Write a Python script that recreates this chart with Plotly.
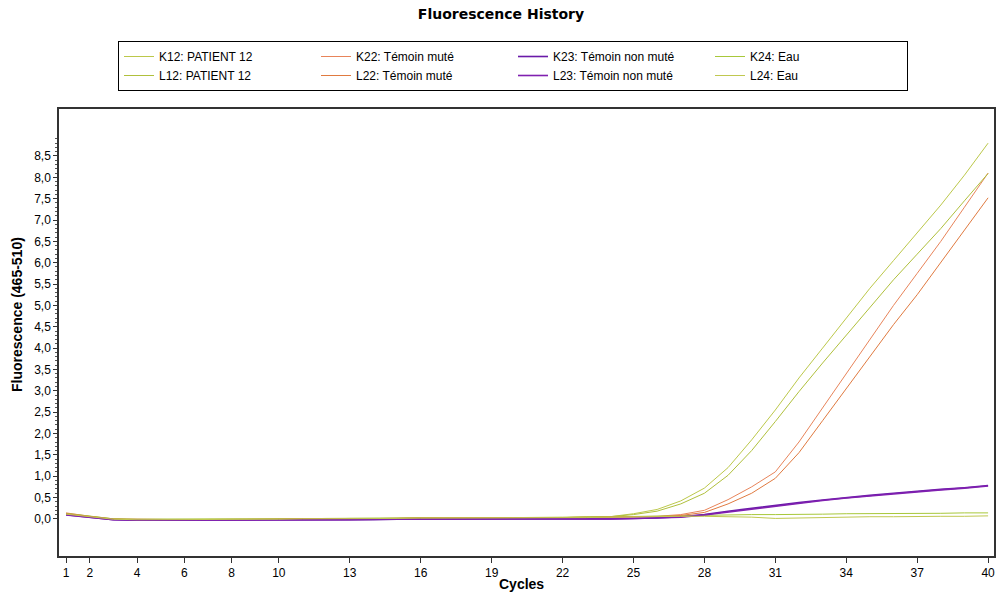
import plotly.graph_objects as go
import numpy as np

cycles = list(range(1, 41))

k12 = [0.12, 0.06, 0.00, -0.01, -0.01, -0.01, -0.01, -0.01, 0.00, 0.00,
       0.00, 0.00, 0.01, 0.01, 0.02, 0.02, 0.01, 0.01, 0.02, 0.03,
       0.03, 0.04, 0.05, 0.05, 0.12, 0.22, 0.42, 0.72, 1.20, 1.85,
       2.55, 3.30, 4.00, 4.70, 5.40, 6.05, 6.70, 7.35, 8.05, 8.80]
l12 = [0.10, 0.05, -0.01, -0.02, -0.02, -0.02, -0.02, -0.01, -0.01, 0.00,
       0.00, 0.00, 0.00, 0.01, 0.01, 0.01, 0.01, 0.02, 0.02, 0.02,
       0.03, 0.03, 0.04, 0.05, 0.10, 0.18, 0.35, 0.60, 1.02, 1.60,
       2.28, 2.98, 3.65, 4.30, 4.95, 5.60, 6.20, 6.80, 7.45, 8.09]
k22 = [0.14, 0.06, 0.00, -0.01, -0.02, -0.02, -0.02, -0.03, -0.02, -0.01,
       -0.01, 0.00, 0.00, 0.01, 0.02, 0.02, 0.02, 0.02, 0.02, 0.03,
       0.03, 0.03, 0.04, 0.04, 0.05, 0.06, 0.10, 0.20, 0.45, 0.75,
       1.10, 1.80, 2.60, 3.40, 4.20, 5.00, 5.75, 6.50, 7.30, 8.10]
l22 = [0.12, 0.05, -0.01, -0.02, -0.02, -0.02, -0.02, -0.02, -0.01, -0.01,
       0.00, 0.00, 0.01, 0.01, 0.01, 0.02, 0.02, 0.02, 0.02, 0.02,
       0.03, 0.03, 0.03, 0.04, 0.04, 0.05, 0.08, 0.15, 0.35, 0.60,
       0.95, 1.55, 2.30, 3.05, 3.80, 4.55, 5.25, 6.00, 6.75, 7.52]
k23 = [0.10, 0.04, -0.02, -0.03, -0.03, -0.03, -0.03, -0.03, -0.03, -0.02,
       -0.02, -0.02, -0.02, -0.02, -0.01, -0.01, -0.01, -0.01, -0.01, -0.01,
       -0.01, 0.00, 0.00, 0.00, 0.01, 0.02, 0.05, 0.10, 0.18, 0.25,
       0.32, 0.38, 0.44, 0.50, 0.55, 0.60, 0.65, 0.69, 0.73, 0.78]
l23 = [0.09, 0.03, -0.02, -0.03, -0.03, -0.03, -0.03, -0.03, -0.02, -0.02,
       -0.02, -0.02, -0.02, -0.01, -0.01, -0.01, -0.01, -0.01, -0.01, -0.01,
       0.00, 0.00, 0.00, 0.00, 0.01, 0.02, 0.04, 0.09, 0.16, 0.23,
       0.30, 0.37, 0.43, 0.49, 0.54, 0.59, 0.64, 0.68, 0.72, 0.77]
k24 = [0.13, 0.06, 0.00, -0.01, -0.01, -0.01, -0.01, -0.01, 0.00, 0.00,
       0.00, 0.01, 0.01, 0.01, 0.02, 0.03, 0.02, 0.02, 0.02, 0.03,
       0.03, 0.03, 0.04, 0.04, 0.05, 0.06, 0.07, 0.08, 0.09, 0.10,
       0.10, 0.10, 0.11, 0.12, 0.12, 0.13, 0.13, 0.13, 0.14, 0.14]
l24 = [0.11, 0.05, -0.01, -0.02, -0.02, -0.02, -0.02, -0.02, -0.01, -0.01,
       0.00, 0.00, 0.00, 0.01, 0.01, 0.02, 0.02, 0.02, 0.02, 0.02,
       0.03, 0.03, 0.03, 0.04, 0.05, 0.05, 0.06, 0.06, 0.05, 0.04,
       0.01, 0.02, 0.03, 0.05, 0.05, 0.05, 0.06, 0.06, 0.06, 0.07]

series_names = ["K12: PATIENT 12", "K22: Témoin muté", "K23: Témoin non muté", "K24: Eau",
                "L12: PATIENT 12", "L22: Témoin muté", "L23: Témoin non muté", "L24: Eau"]
series_values = [k12, k22, k23, k24, l12, l22, l23, l24]
series_colors = ["#bcc84a", "#e8845a", "#6a1aa8", "#a8c83a",
                 "#b0c03c", "#e07a40", "#8020b0", "#c0c850"]
series_widths = [1, 1, 1.6, 1, 1, 1, 1.6, 1]

x_tickvals = [1, 2, 4, 6, 8, 10, 13, 16, 19, 22, 25, 28, 31, 34, 37, 40]
y_tickvals = [0.0, 0.5, 1.0, 1.5, 2.0, 2.5, 3.0, 3.5, 4.0, 4.5, 5.0, 5.5, 6.0, 6.5, 7.0, 7.5, 8.0, 8.5]

W, H = 999, 601
PLOT_L, PLOT_R, PLOT_T, PLOT_B = 59, 994, 109, 556
PW, PH = PLOT_R - PLOT_L, PLOT_B - PLOT_T

fig = go.Figure()
for name, vals, col, w in zip(series_names, series_values, series_colors, series_widths):
    fig.add_trace(go.Scatter(x=cycles, y=vals, mode="lines", name=name,
                             line=dict(color=col, width=w)))

axis_font = dict(family="Liberation Sans, Arial, sans-serif", size=12, color="#000000")

fig.update_layout(
    width=W, height=H,
    paper_bgcolor="white", plot_bgcolor="white",
    margin=dict(l=PLOT_L, r=W - PLOT_R, t=PLOT_T, b=H - PLOT_B, autoexpand=False),
    separators=",.",
    title=dict(text="<b>Fluorescence History</b>", x=501 / W, xanchor="center",
               y=1 - 14 / H, yanchor="middle",
               font=dict(family="DejaVu Sans, sans-serif", size=14, color="#000000")),
    showlegend=True,
    legend=dict(orientation="h", x=(118 - PLOT_L) / PW, xanchor="left",
                y=(PLOT_B - 41) / PH, yanchor="top",
                bordercolor="#000000", borderwidth=1,
                entrywidth=152, entrywidthmode="pixels",
                font=axis_font, tracegroupgap=0, itemwidth=30),
    xaxis=dict(range=[0.70, 40.25], tickmode="array", tickvals=x_tickvals,
               ticks="outside", ticklen=5, tickcolor="#333333",
               showgrid=False, zeroline=False, automargin=False,
               showline=True, linecolor="#333333", linewidth=1.5, mirror=True,
               tickfont=axis_font),
    yaxis=dict(range=[-0.87, 9.6], tickmode="array", tickvals=y_tickvals,
               tickformat=".1f", ticks="outside", ticklen=4, tickcolor="#333333",
               showgrid=False, zeroline=False, automargin=False,
               showline=True, linecolor="#333333", linewidth=1.5, mirror=True,
               tickfont=axis_font,
               minor=dict(tickmode="array", tickvals=list(np.round(np.arange(0, 9.0, 0.1), 2)),
                          ticks="outside", ticklen=2, tickcolor="#555555", showgrid=False)),
    annotations=[
        dict(text="<b>Fluorescence (465-510)</b>", xref="paper", yref="paper",
             x=(17 - PLOT_L) / PW, y=(PLOT_B - 315) / PH, xanchor="center", yanchor="middle",
             textangle=-90, showarrow=False,
             font=dict(family="Liberation Sans, Arial, sans-serif", size=14, color="#000000")),
        dict(text="<b>Cycles</b>", xref="paper", yref="paper",
             x=(521 - PLOT_L) / PW, y=(PLOT_B - 584) / PH, xanchor="center", yanchor="middle",
             showarrow=False,
             font=dict(family="Liberation Sans, Arial, sans-serif", size=14, color="#000000")),
    ],
)

fig.write_html("out.html", config={"displayModeBar": False},
               post_script="document.body.style.margin='0';document.body.style.overflow='hidden';")
